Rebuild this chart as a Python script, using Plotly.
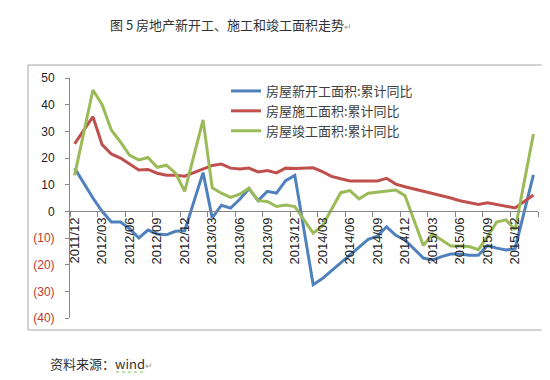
import plotly.graph_objects as go

months = ["2011/12",
          "2012/01", "2012/02", "2012/03", "2012/04", "2012/05", "2012/06",
          "2012/07", "2012/08", "2012/09", "2012/10", "2012/11", "2012/12",
          "2013/01", "2013/02", "2013/03", "2013/04", "2013/05", "2013/06",
          "2013/07", "2013/08", "2013/09", "2013/10", "2013/11", "2013/12",
          "2014/01", "2014/02", "2014/03", "2014/04", "2014/05", "2014/06",
          "2014/07", "2014/08", "2014/09", "2014/10", "2014/11", "2014/12",
          "2015/01", "2015/02", "2015/03", "2015/04", "2015/05", "2015/06",
          "2015/07", "2015/08", "2015/09", "2015/10", "2015/11", "2015/12",
          "2016/01", "2016/02"]

# January values are not published (Jan-Feb combined) -> None, line connects over the gap
new_starts = [16.2,
              None, 5.0, 0.0, -4.0, -4.0, -6.5, -10.0, -7.0, -8.5, -8.8, -7.5, -7.3,
              None, 14.5, -2.5, 2.3, 1.2, 4.5, 8.5, 4.0, 7.5, 6.8, 11.5, 13.5,
              None, -27.5, -25.2, -22.3, -19.5, -16.5, -13.5, -10.5, -9.3, -5.8, -9.0, -10.7,
              None, -17.5, -18.2, -17.0, -16.0, -16.0, -16.5, -16.5, -12.8, -13.8, -14.5, -14.0,
              None, 13.7]

under_construction = [25.3,
                      None, 35.5, 25.0, 21.5, 20.0, 17.8, 15.5, 15.7, 14.3, 13.5, 13.5, 13.2,
                      None, 16.0, 17.2, 17.7, 16.2, 15.9, 16.2, 14.8, 15.3, 14.4, 16.2, 16.1,
                      None, 16.3, 14.9, 13.1, 12.2, 11.4, 11.4, 11.5, 11.4, 12.4, 10.2, 9.2,
                      None, 7.5, 6.8, 6.0, 5.0, 4.0, 3.2, 2.6, 3.2, 2.5, 1.8, 1.3,
                      None, 6.1]

completed = [13.5,
             None, 45.5, 40.0, 30.5, 26.0, 21.0, 19.3, 20.2, 16.5, 17.3, 14.3, 7.5,
             None, 34.3, 8.8, 6.8, 5.2, 6.4, 8.7, 4.0, 3.7, 1.8, 2.4, 1.8,
             None, -8.2, -5.5, 1.0, 7.0, 7.8, 4.7, 6.8, 7.2, 7.6, 8.0, 5.9,
             None, -12.8, -8.5, -10.8, -13.0, -13.0, -13.2, -14.4, -9.5, -4.0, -3.2, -6.9,
             None, 29.0]

series_names = ["房屋新开工面积:累计同比", "房屋施工面积:累计同比", "房屋竣工面积:累计同比"]
series_colors = ["#4F81BD", "#C0504D", "#9BBB59"]

y_ticks = [50, 40, 30, 20, 10, 0, -10, -20, -30, -40]

title_text = "图\u00a05\u00a0房地产新开工、施工和竣工面积走势"
source_text = "资料来源：wind"

x_idx = list(range(len(months)))


def fmt_tick(v):
    if v < 0:
        return '<span style="color:#C0392B">(%d)</span>' % abs(v)
    return str(v)


fig = go.Figure()
for name, vals, col in zip(series_names, [new_starts, under_construction, completed], series_colors):
    fig.add_trace(go.Scatter(x=x_idx, y=vals, name=name, mode="lines",
                             connectgaps=True,
                             line=dict(color=col, width=3)))

W, H = 550, 380
ml, mr, mt, mb = 62, 20, 70, 70
pw, ph = W - ml - mr, H - mt - mb


def px_x(p):
    return (p - ml) / pw


def px_y(p):
    return (H - mb - p) / ph


fig.update_layout(
    width=W, height=H,
    margin=dict(l=ml, r=mr, t=mt, b=mb, pad=0),
    paper_bgcolor="white", plot_bgcolor="white",
    font=dict(family="Noto Sans CJK SC, sans-serif", size=12, color="#333333"),
    showlegend=True,
    legend=dict(x=px_x(218), y=px_y(68), xanchor="left", yanchor="top",
                bgcolor="rgba(0,0,0,0)", borderwidth=0,
                font=dict(family="Noto Sans CJK SC", size=13, color="#404040"),
                itemwidth=30, tracegroupgap=0),
    xaxis=dict(
        range=[-0.5, len(months) - 0.5],
        anchor="free", position=(0 - (-40)) / 90.0,
        showgrid=False, zeroline=False,
        showline=True, linecolor="#868686", linewidth=1,
        tickmode="array", tickvals=x_idx[::3], ticktext=months[::3],
        ticks="", tickangle=-90,
        tickfont=dict(family="Liberation Sans, Arial", size=13, color="#222222"),
        minor=dict(tickmode="array",
                   tickvals=[i - 0.5 for i in range(0, len(months) + 1, 3)],
                   ticks="outside", ticklen=5, tickcolor="#868686", tickwidth=1,
                   showgrid=False),
    ),
    yaxis=dict(
        range=[-40, 50],
        showgrid=False, zeroline=False,
        showline=True, linecolor="#868686", linewidth=1,
        tickmode="array", tickvals=y_ticks, ticktext=[fmt_tick(v) for v in y_ticks],
        ticks="outside", ticklen=4, tickcolor="#868686",
        ticklabelstandoff=8,
        tickfont=dict(family="Liberation Sans, Arial", size=12, color="#222222"),
    ),
    shapes=[
        dict(type="rect", xref="paper", yref="paper",
             x0=px_x(20), x1=px_x(544), y0=px_y(322), y1=px_y(57),
             line=dict(color="#A6A6A6", width=1), fillcolor="rgba(0,0,0,0)", layer="below"),
        dict(type="line", xref="paper", yref="paper",
             x0=px_x(108), x1=px_x(137), y0=px_y(364), y1=px_y(364),
             line=dict(color="#7FBF5F", width=1, dash="dot")),
        # small anchor cross mark beside the frame corner
        dict(type="line", xref="paper", yref="paper",
             x0=px_x(545.5), x1=px_x(549), y0=px_y(319), y1=px_y(319),
             line=dict(color="#999999", width=1)),
        dict(type="line", xref="paper", yref="paper",
             x0=px_x(547.2), x1=px_x(547.2), y0=px_y(317.2), y1=px_y(320.8),
             line=dict(color="#999999", width=1)),
    ],
    annotations=[
        dict(text=title_text + '<span style="font-size:9px;color:#9a9a9a">↵</span>',
             xref="paper", yref="paper", x=px_x(100), y=px_y(17),
             xanchor="left", yanchor="middle", showarrow=False,
             font=dict(family="Noto Sans CJK SC", size=13, color="#333333")),
        dict(text=source_text + '<span style="font-size:9px;color:#9a9a9a">↵</span>',
             xref="paper", yref="paper", x=px_x(40), y=px_y(355),
             xanchor="left", yanchor="middle", showarrow=False,
             font=dict(family="Noto Sans CJK SC", size=13, color="#333333")),
    ],
)

fig.write_html("out.html")
